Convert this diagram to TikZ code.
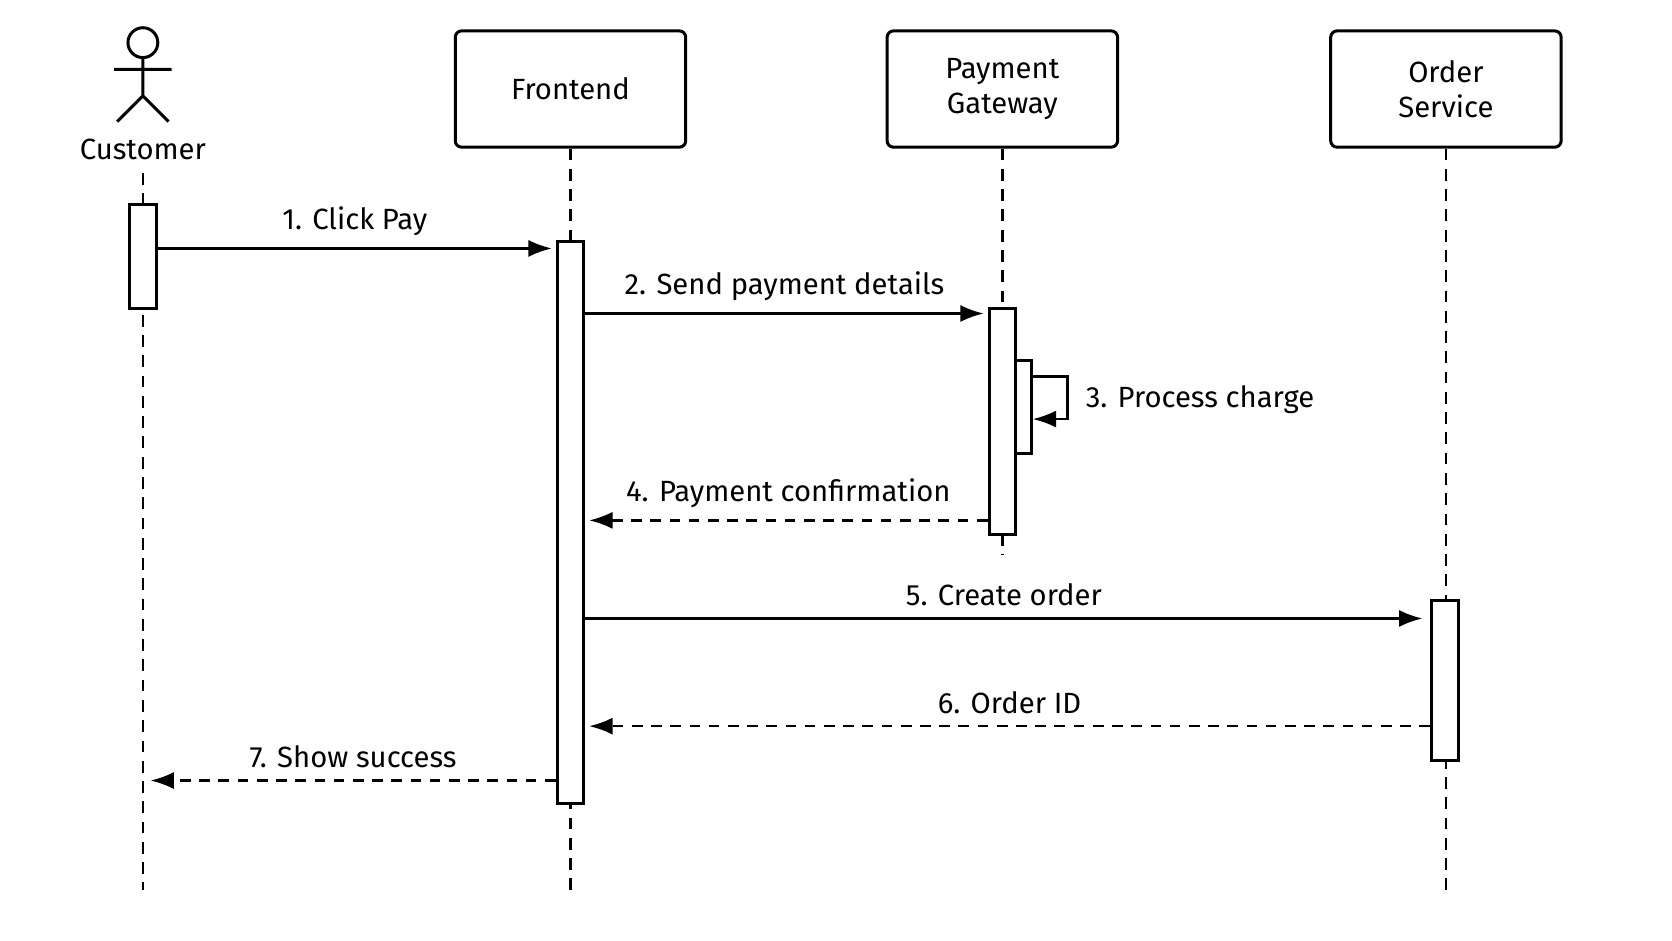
\documentclass[tikz,border=0pt]{standalone}
\usepackage{fontspec}
\setmainfont{Fira Sans}
\usetikzlibrary{arrows.meta}
\tikzset{
  actor/.style={draw, rounded corners=0.6mm, minimum width=21.6mm, minimum height=10.9mm, align=center, line width=0.8pt},
  act/.style={draw, fill=white, minimum width=2.5mm, inner sep=0pt, line width=0.8pt},
  life/.style={dashed, dash pattern=on 1.1mm off 0.8mm, line width=0.7pt},
  msg/.style={-{Latex[length=2.2mm,width=1.6mm]}, line width=0.7pt},
  reply/.style={msg, dash pattern=on 1mm off 0.8mm},
  lbl/.style={inner sep=1pt, font=\fontsize{7.8}{9.5}\selectfont}
}
\begin{document}
\begin{tikzpicture}[x=0.01cm, y=-0.01cm, font=\fontsize{7.8}{9.5}\selectfont]
\useasboundingbox (0,0) rectangle (1568,882);
% Participants
    \node[actor] (fe) at (535,83.5) {Frontend};
    \node[actor] (pg) at (940,83.5) {Payment\\Gateway};
    \node[actor] (os) at (1356,83.5) {Order\\Service};
% Customer stick figure
    \draw[line width=0.8pt] (134,40) circle (14);
    \draw[line width=0.8pt] (134,54) -- (134,90) (107,65) -- (161,65)
        (110,114) -- (134,90) -- (158,114);
    \node (cu) at (134,140) {Customer};
% Lifelines
    \draw[life] (cu.south) -- (134,835);
    \draw[life] (fe.south) -- (535,835);
    \draw[life] (pg.south) -- (940,520);
    \draw[life] (os.south) -- (1356,835);
% Activations
    \node[act, minimum height=9.7mm] (ca) at (134,240.5) {};
    \node[act, minimum height=52.6mm] (fa) at (535,490) {};
    \node[act, minimum height=21.2mm] (pa) at (940,395) {};
    \node[act, minimum width=1.5mm, minimum height=8.7mm] (pb) at (959.5,381.5) {};
    \node[act, minimum height=15mm] (oa) at (1355,638) {};
% Messages
    \coordinate (m1) at (0,233);
    \coordinate (m2) at (0,294);
    \coordinate (m4) at (0,488);
    \coordinate (m5) at (0,580);
    \coordinate (m6) at (0,681);
    \coordinate (m7) at (0,732);
    \draw[msg] (ca.east |- m1) -- node[lbl, above=2pt] {1. Click Pay} ([xshift=-1pt]fa.west |- m1);
    \draw[msg] (fa.east |- m2) -- node[lbl, above=2pt] {2. Send payment details} ([xshift=-1pt]pa.west |- m2);
    \draw[msg] (pb.east |- 0,353) -- (1001,353) -- (1001,393) -- (pb.east |- 0,393);
    \node[lbl, anchor=west] (l3) at (1014,375) {3. Process charge};
    \draw[reply] (pa.west |- m4) -- node[lbl, above=2pt] {4. Payment confirmation} ([xshift=1pt]fa.east |- m4);
    \draw[msg] (fa.east |- m5) -- node[lbl, above=2pt] {5. Create order} ([xshift=-2pt]oa.west |- m5);
    \draw[reply] (oa.west |- m6) -- node[lbl, above=2pt] {6. Order ID} ([xshift=1pt]fa.east |- m6);
    \draw[reply] (fa.west |- m7) -- node[lbl, above=2pt] {7. Show success} ([xshift=2pt]ca.center |- m7);
\end{tikzpicture}
\end{document}
